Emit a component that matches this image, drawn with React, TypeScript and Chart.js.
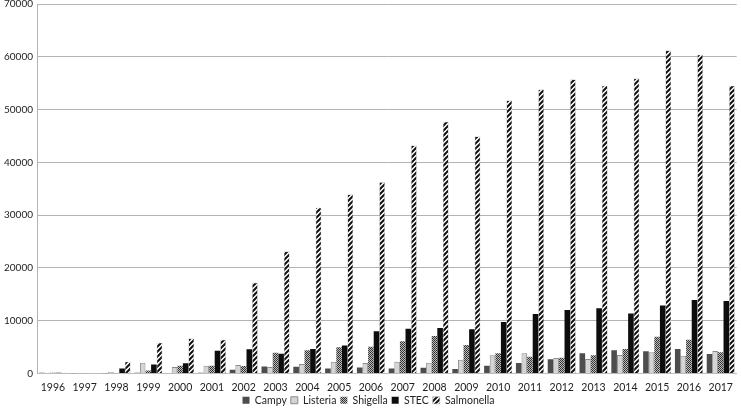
import React, { useEffect, useRef } from "react";
import { Chart, registerables } from "chart.js";

Chart.register(...registerables);

const years = ["1996","1997","1998","1999","2000","2001","2002","2003","2004","2005","2006","2007","2008","2009","2010","2011","2012","2013","2014","2015","2016","2017"];
const campy = [120, 30, 40, 100, 80, 120, 700, 1330, 1270, 950, 1140, 950, 1080, 820, 1460, 1960, 2660, 3800, 4370, 4180, 4620, 3670];
const listeria = [120, 30, 250, 2000, 1200, 1450, 1600, 1200, 1770, 2200, 1960, 2200, 2030, 2600, 3420, 3800, 2900, 2720, 3480, 3990, 3350, 4240];
const shigella = [120, 30, 80, 570, 1450, 1450, 1400, 3900, 4370, 4940, 5060, 6080, 7090, 5380, 3800, 3160, 2970, 3420, 4620, 6960, 6390, 3990];
const stec = [120, 60, 950, 1700, 1900, 4300, 4600, 3730, 4620, 5300, 7970, 8480, 8600, 8350, 9750, 11270, 12030, 12340, 11330, 12850, 13920, 13730];
const salmonella = [120, 80, 2200, 5800, 6600, 6400, 17200, 23100, 31400, 33900, 36200, 43200, 47700, 44900, 51700, 53800, 55700, 54500, 55900, 61200, 60400, 54500];
const yTicks = [0, 10000, 20000, 30000, 40000, 50000, 60000, 70000];

function makeStripe(): CanvasPattern | string {
  const c = document.createElement("canvas");
  c.width = 5; c.height = 5;
  const g = c.getContext("2d");
  if (!g) return "#000";
  g.fillStyle = "#fff";
  g.fillRect(0, 0, 5, 5);
  g.strokeStyle = "#111";
  g.lineWidth = 2;
  g.beginPath();
  g.moveTo(-1, 6); g.lineTo(6, -1);
  g.moveTo(-3, 3); g.lineTo(3, -3);
  g.moveTo(2, 8); g.lineTo(8, 2);
  g.stroke();
  return g.createPattern(c, "repeat") || "#000";
}

function makeHatch(): CanvasPattern | string {
  const c = document.createElement("canvas");
  c.width = 4; c.height = 4;
  const g = c.getContext("2d");
  if (!g) return "#777";
  g.fillStyle = "#bdbdbd";
  g.fillRect(0, 0, 4, 4);
  g.fillStyle = "#3a3a3a";
  for (let y = 0; y < 4; y++) {
    for (let x = 0; x < 4; x++) {
      if ((x + y) % 2 === 0) g.fillRect(x, y, 1, 1);
    }
  }
  g.fillStyle = "#222";
  g.fillRect(0, 0, 1, 1);
  g.fillRect(2, 2, 1, 1);
  return g.createPattern(c, "repeat") || "#777";
}

const legendTweak = {
  id: "legendTweak",
  afterInit(chart: any) {
    const lg = chart.legend;
    if (!lg) return;
    const origFit = lg.fit;
    lg.fit = function () {
      origFit.call(this);
      this.height = 6;
    };
    const origDraw = lg.draw;
    lg.draw = function (area: any) {
      const t = this.top, b = this.bottom, h = this.height;
      this.top = t - 11;
      this.height = 30;
      this.bottom = this.top + 30;
      origDraw.call(this, area);
      this.top = t; this.bottom = b; this.height = h;
    };
  },
};

export default function App() {
  const ref = useRef<HTMLCanvasElement | null>(null);
  useEffect(() => {
    document.body.style.margin = "0";
    if (!ref.current) return;
    const font = { family: "Lato, 'Open Sans', sans-serif", size: 10.5 };
    const yFont = { family: "Lato, 'Open Sans', sans-serif", size: 10 };
    const chart = new Chart(ref.current, {
      type: "bar",
      data: {
        labels: years,
        datasets: [
          { label: "Campy", data: campy, backgroundColor: "#4d4d4d", borderWidth: 0 },
          { label: "Listeria", data: listeria, backgroundColor: "#d4d4d4", borderColor: "#8a8a8a", borderWidth: 1 },
          { label: "Shigella", data: shigella, backgroundColor: makeHatch(), borderColor: "#555", borderWidth: 0 },
          { label: "STEC", data: stec, backgroundColor: "#0d0d0d", borderWidth: 0 },
          { label: "Salmonella", data: salmonella, backgroundColor: makeStripe(), borderColor: "#999", borderWidth: 0.5 },
        ],
      },
      options: {
        responsive: false,
        animation: false,
        layout: { padding: { left: 0, right: 4, top: 0, bottom: 0 } },
        datasets: { bar: { categoryPercentage: 0.88, barPercentage: 1 } },
        plugins: {
          tooltip: { enabled: false },
          legend: {
            position: "bottom",
            labels: {
              boxWidth: 7,
              boxHeight: 7,
              padding: 4,
              color: "#222",
              font,
            },
          },
        },
        scales: {
          x: {
            grid: { display: false, drawTicks: false },
            border: { display: true, color: "#bdbdbd" },
            ticks: { color: "#222", font, padding: 8, maxRotation: 0, autoSkip: false },
          },
          y: {
            min: 0,
            max: 70000,
            afterBuildTicks: (axis: any) => {
              axis.ticks = yTicks.map((v) => ({ value: v }));
            },
            grid: { color: "#b3b3b3", drawTicks: false, lineWidth: 1 },
            border: { display: true, color: "#b3b3b3" },
            ticks: { color: "#222", font: yFont, padding: 4, callback: (v: any) => String(v) },
          },
        },
      },
      plugins: [legendTweak],
    });
    chart.update();
    return () => chart.destroy();
  }, []);
  return (
    <div style={{ width: 741, height: 408, overflow: "hidden" }}>
      <canvas ref={ref} width={741} height={414} style={{ display: "block", marginTop: -6 }} />
    </div>
  );
}
